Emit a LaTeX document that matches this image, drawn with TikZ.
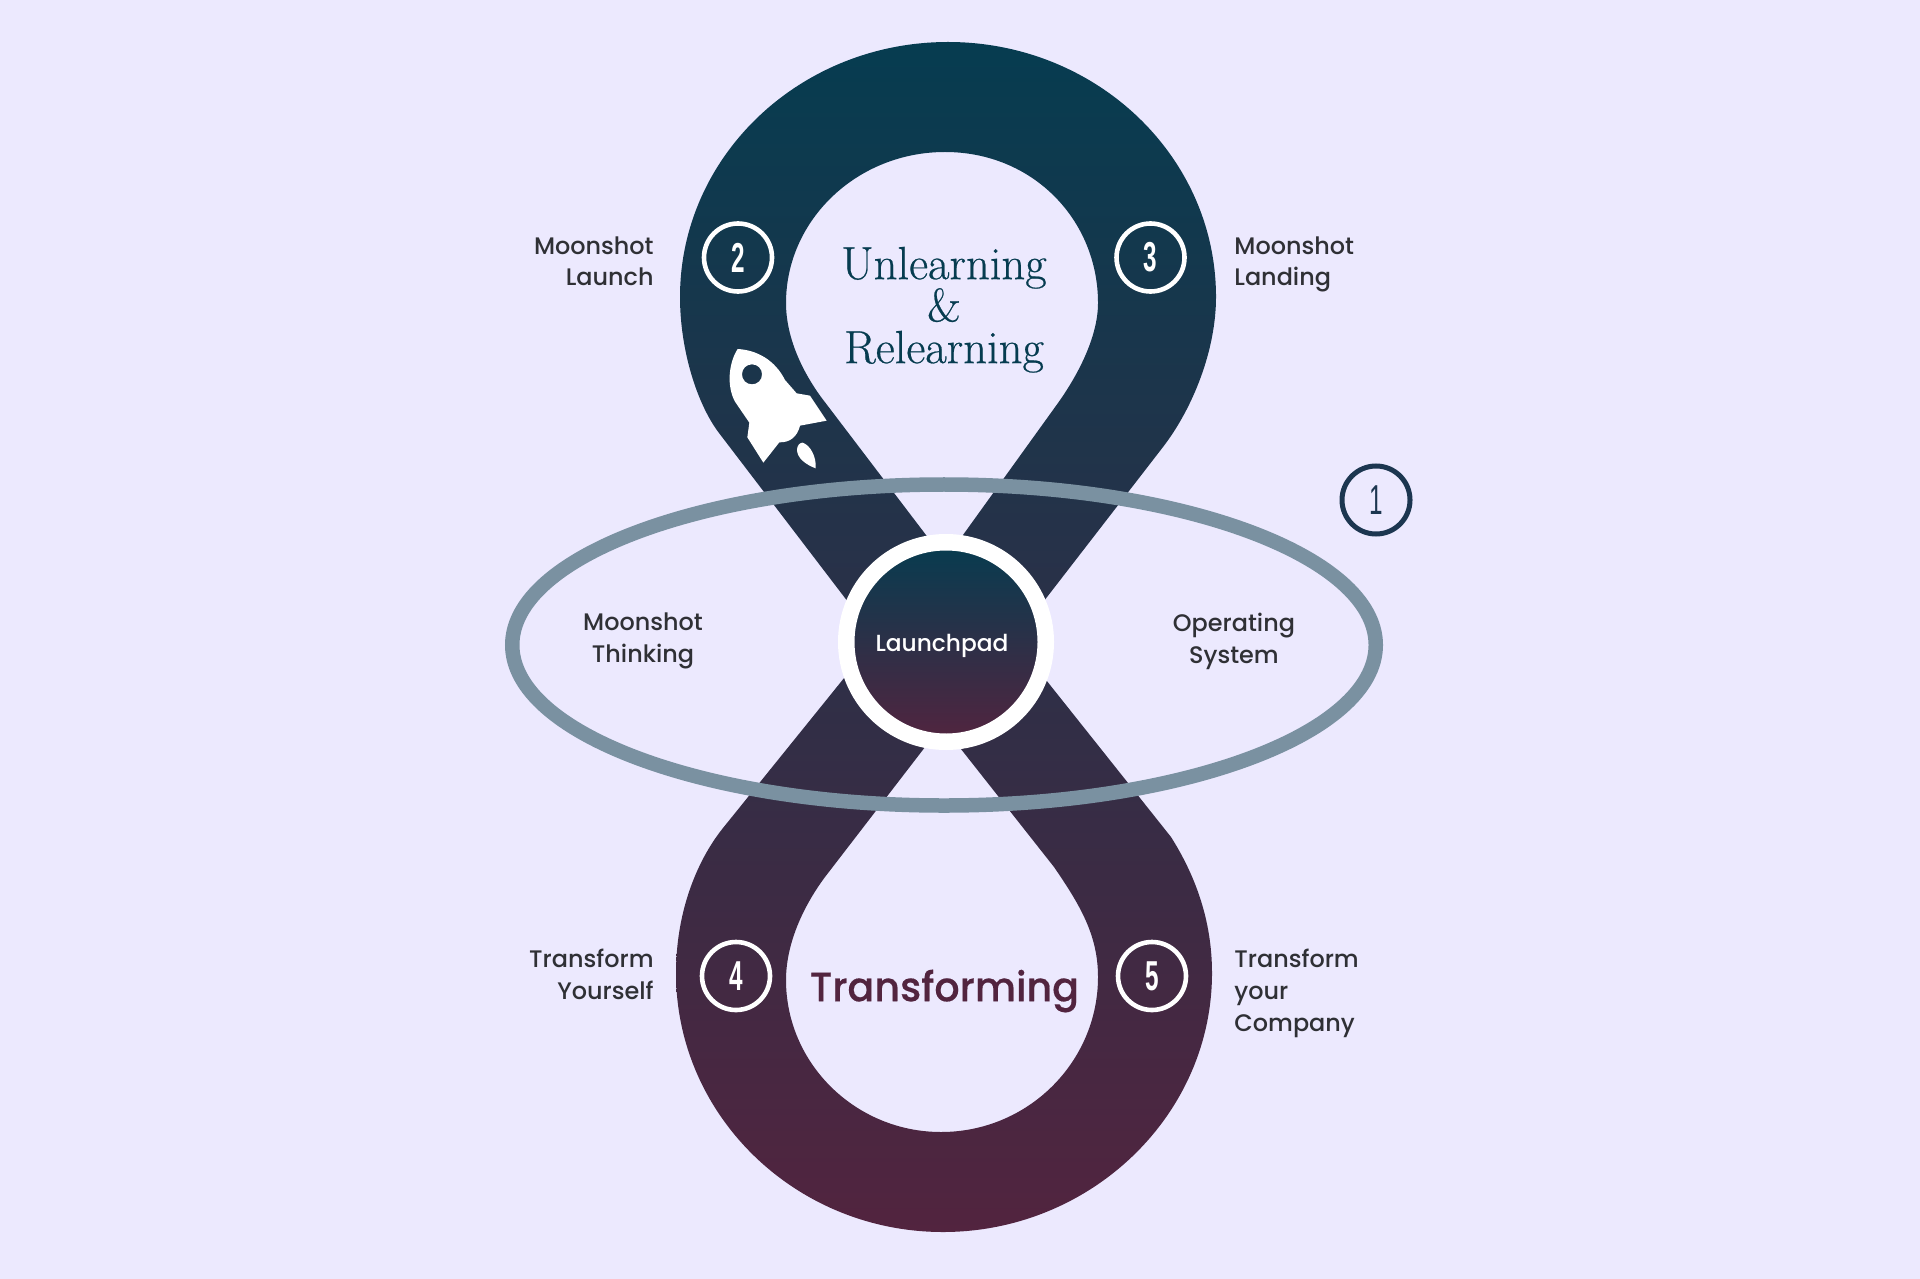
\documentclass[tikz,border=0pt]{standalone}
\usepackage{fontspec}
\usetikzlibrary{shapes.geometric}
\setmainfont{Lato}
\newfontfamily\labfont{Poppins}[UprightFont=* Medium]
\newfontfamily\titfont{Poppins}[UprightFont=* Medium,FakeBold=0.4]
\newfontfamily\numfont{Liberation Sans}
\newfontfamily\serfont{Latin Modern Roman}[FakeBold=0.5]
\definecolor{bgc}{HTML}{ECE9FE}
\definecolor{teal}{HTML}{063C50}
\definecolor{plum}{HTML}{52243F}
\definecolor{ringc}{HTML}{7A91A1}
\definecolor{navy}{HTML}{1C3650}
\definecolor{txt}{HTML}{2F3035}
\tikzset{
  px/.style={x=0.5bp,y=-0.5bp},
  lab/.style={font=\labfont\fontsize{12}{16}\selectfont,text=txt,inner sep=0pt},
  numring/.style={circle,draw=white,line width=2.3bp,minimum size=34bp,inner sep=0pt,text=white},
}
\newcommand{\numb}[1]{\scalebox{0.58}[1]{\numfont\bfseries\fontsize{21}{21}\selectfont #1}}
\begin{document}
\begin{tikzpicture}[px]
\useasboundingbox (0,0) rectangle (1920,1278.5);
\fill[bgc] (0,0) rectangle (1920,1280);
% figure-eight band
\shade[even odd rule,top color=teal,bottom color=plum]
  (945,729) -- (719,433) .. controls (697,404) and (680,350) .. (680,297)
  .. controls (680,156) and (800,42) .. (948,42)
  .. controls (1096,42) and (1216,156) .. (1216,297)
  .. controls (1216,350) and (1193,408) .. (1163,447) -- cycle
  (945,560) -- (821,397) .. controls (800,368) and (786,335) .. (786,303)
  .. controls (786,220) and (857,152) .. (945,152)
  .. controls (1033,152) and (1098,220) .. (1098,303)
  .. controls (1098,335) and (1080,372) .. (1058,403) -- cycle
  (945,553) -- (723,828) .. controls (695,863) and (676,915) .. (676,973)
  .. controls (676,1116) and (796,1232) .. (943,1232)
  .. controls (1090,1232) and (1212,1116) .. (1212,973)
  .. controls (1212,920) and (1195,875) .. (1171,837) -- cycle
  (942,725) -- (825,877) .. controls (802,908) and (786,945) .. (786,980)
  .. controls (786,1064) and (856,1132) .. (941,1132)
  .. controls (1028,1132) and (1098,1062) .. (1098,977)
  .. controls (1098,935) and (1080,905) .. (1054,867) -- cycle;
% ellipse ring
\node[ellipse,draw=ringc,line width=7.25bp,minimum width=431.75bp,minimum height=160.5bp,inner sep=0pt] (ring) at (944,645) {};
% centre
\node[circle,top color=teal,bottom color=plum,draw=white,line width=8.25bp,minimum size=99.75bp,inner sep=0pt] (pad) at (946,642) {};
\node[text=white,font=\labfont\fontsize{11.7}{14}\selectfont,inner sep=0pt] (padt) at (942,645.5) {Launchpad};
% rocket
\begin{scope}[shift={(700,330)},scale=0.33333]
\fill[white,even odd rule]
  (113,57) .. controls (170,60) and (225,90) .. (255,150)
  -- (290,190) -- (330,197) -- (380,272) -- (300,287)
  .. controls (292,320) and (270,338) .. (238,337)
  -- (190,398) -- (142,322) -- (148,278) -- (105,215)
  .. controls (80,170) and (85,100) .. (113,57) -- cycle
  (186,133) .. controls (186,150) and (173,163) .. (156,163)
  .. controls (139,163) and (126,150) .. (126,133)
  .. controls (126,116) and (139,103) .. (156,103)
  .. controls (173,103) and (186,116) .. (186,133) -- cycle;
\fill[white] (308,338) .. controls (330,345) and (350,380) .. (347,415)
  .. controls (320,405) and (290,385) .. (291,358)
  .. controls (292,345) and (300,338) .. (308,338) -- cycle;
\end{scope}
% number rings
\node[numring] (n2) at (738,257.5) {\numb{2}};
\node[numring] (n3) at (1150.5,257.5) {\numb{3}};
\node[numring] (n4) at (736,976) {\numb{4}};
\node[numring] (n5) at (1152,976) {\numb{5}};
\node[circle,draw=navy,line width=2.5bp,minimum size=34bp,inner sep=0pt,text=navy] (n1) at (1376,500)
  {\scalebox{0.58}[1]{\numfont\fontsize{21}{21}\selectfont 1}};
% labels
\node[lab,align=right,anchor=north east] (l2) at (654,236) {Moonshot\\Launch};
\node[lab,align=left,anchor=north west] (l3) at (1234,236) {Moonshot\\Landing};
\node[lab,align=right,anchor=north east] (l4) at (654,949) {Transform\\Yourself};
\node[lab,align=left,anchor=north west] (l5) at (1234,949) {Transform\\your\\Company};
\node[lab,align=center] (lt) at (643,641) {Moonshot\\Thinking};
\node[lab,align=center] (lo) at (1234,641) {Operating\\System};
% titles
\node[font=\serfont\fontsize{23.4}{21}\selectfont,text=teal,align=center,inner sep=0pt] (ul) at (944,309.75) {Unlearning\\[-1.25pt]\&\\Relearning};
\node[text=plum,inner sep=0pt] (tr) at (944.5,991) {\scalebox{0.97}[1]{\titfont\fontsize{20.5}{24}\selectfont Transforming}};
\end{tikzpicture}
\end{document}
